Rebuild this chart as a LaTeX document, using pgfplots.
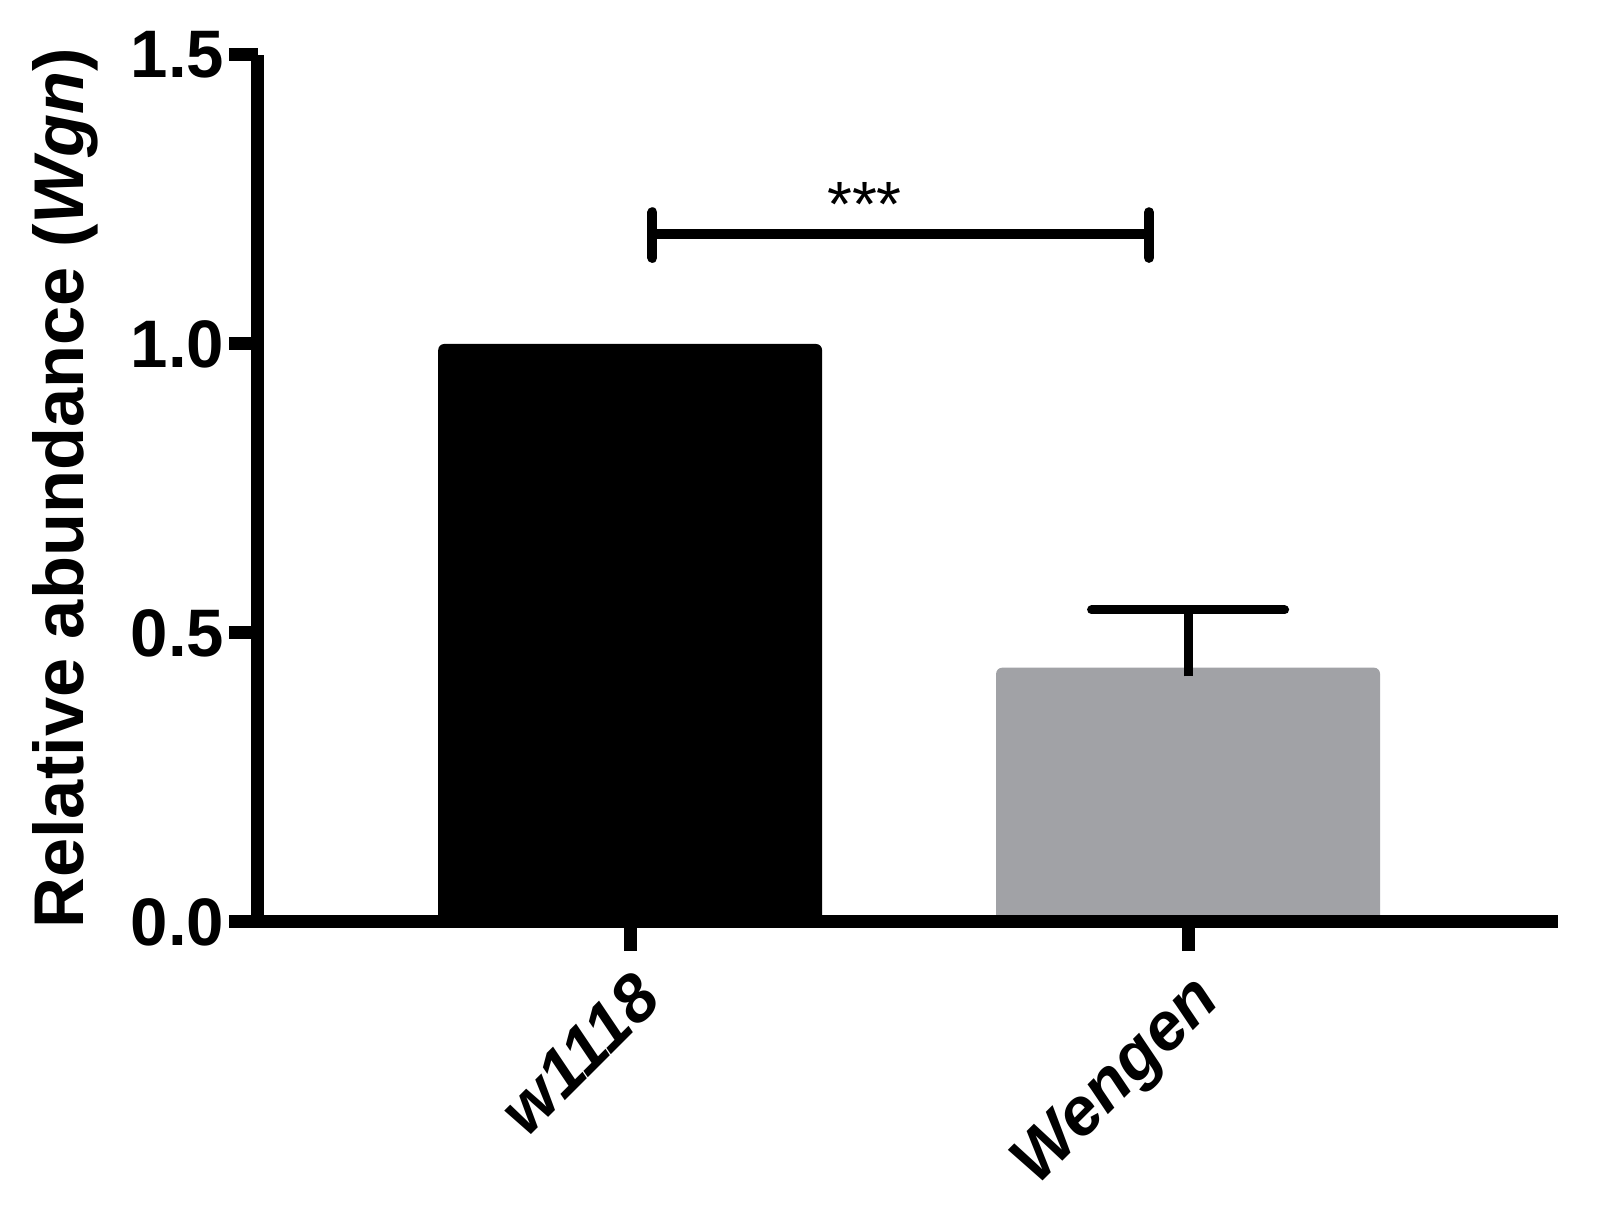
\documentclass[border=0pt]{standalone}
\usepackage{pgfplots}
\pgfplotsset{compat=1.18}
\usepackage{fontspec}
\setmainfont{Liberation Sans}
\usetikzlibrary{calc}
\definecolor{bargray}{RGB}{161,162,166}
\begin{document}
\begin{tikzpicture}
\begin{axis}[
  scale only axis, width=325pt, height=216.75pt,
  xmin=-0.667, xmax=1.663, ymin=0, ymax=1.5,
  axis lines*=left,
  axis line style={line width=3.25pt, -},
  axis on top=true,
  tick align=outside,
  major tick length=7.25pt,
  every tick/.style={line width=3.25pt, black},
  ytick={0,0.5,1,1.5},
  xtick={0,1},
  xticklabels={w1118, Wengen},
  /pgf/number format/.cd, fixed, fixed zerofill, precision=1, assume math mode=true,
  /pgfplots/.cd,
  yticklabel style={font=\fontsize{16.8}{20}\selectfont\bfseries, inner sep=1pt},
  xticklabel style={font=\fontsize{16.8}{20}\selectfont\bfseries\itshape, rotate=45, anchor=base east, inner sep=0.5pt, yshift=-15pt, xshift=-2.5pt},
  ylabel={Relative abundance (\textit{Wgn})},
  ylabel style={font=\fontsize{17.6}{21}\selectfont\bfseries, at={(axis description cs:-0.1485,0.5)}, anchor=center},
  clip=false,
]
\addplot[ybar, bar width=0.688, bar shift=0pt, fill=black, draw=none, rounded corners=1.5pt] coordinates {(0,1.0)};
\addplot[ybar, bar width=0.688, bar shift=0pt, fill=bargray, draw=none, rounded corners=1.5pt] coordinates {(1,0.44)};
\addplot[line width=2.25pt, black] coordinates {(1,0.425) (1,0.54)};
\addplot[line width=2.25pt, black, line cap=round] coordinates {(0.827,0.54) (1.173,0.54)};
\addplot[line width=2.5pt, black] coordinates {(0.04,1.191) (0.93,1.191)};
\addplot[line width=2.5pt, black, line cap=round] coordinates {(0.04,1.149) (0.04,1.228)};
\addplot[line width=2.5pt, black, line cap=round] coordinates {(0.93,1.149) (0.93,1.228)};
\node[font=\fontsize{16}{18}\selectfont] at (axis cs:0.42,1.242) {***};
\coordinate (o) at (axis cs:-0.667,0);
\end{axis}
\pgfresetboundingbox
\path ($(o)+(-64.5pt,-75pt)$) rectangle ($(o)+(335.25pt,230.5pt)$);
\end{tikzpicture}
\end{document}
